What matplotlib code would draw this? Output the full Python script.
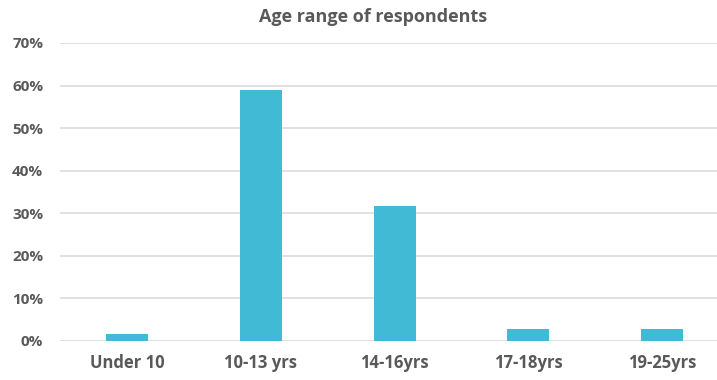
import matplotlib.pyplot as plt
from matplotlib.ticker import PercentFormatter

# Datos
categorias = ['Under 10', '10-13 yrs', '14-16yrs', '17-18yrs', '19-25yrs']
porcentajes = [0.017, 0.59, 0.318, 0.029, 0.029]
yticks = [0, 0.1, 0.2, 0.3, 0.4, 0.5, 0.6, 0.7]

gris = '#595959'
plt.rcParams['font.family'] = ['Open Sans', 'DejaVu Sans']

fig = plt.figure(figsize=(7.17, 3.8), dpi=100)
ax = fig.add_axes([60 / 717, 1 - 341 / 380, 1 - 60 / 717, (341 - 43) / 380])

x = range(len(categorias))
ax.bar(x, porcentajes, width=0.314, color='#40BAD5', zorder=3)

ax.set_xlim(-0.5, 4.41)
ax.set_ylim(0, 0.7)
ax.set_yticks(yticks)
ax.yaxis.set_major_formatter(PercentFormatter(1.0, decimals=0))
ax.set_xticks(list(x))
ax.set_xticklabels(categorias)

ax.grid(axis='y', color='#D9D9D9', linewidth=1.1, zorder=0)
for s in ax.spines.values():
    s.set_visible(False)
ax.tick_params(axis='x', length=0, colors=gris, labelsize=12, pad=9)
ax.tick_params(axis='y', length=0, colors=gris, labelsize=11, pad=12)
for lbl in ax.get_xticklabels() + ax.get_yticklabels():
    lbl.set_fontweight('bold')

fig.text(373 / 717, 1 - 17 / 380, 'Age range of respondents', ha='center', va='center',
         fontsize=13, fontweight='bold', color=gris)

fig.savefig('out.png', dpi=100)
